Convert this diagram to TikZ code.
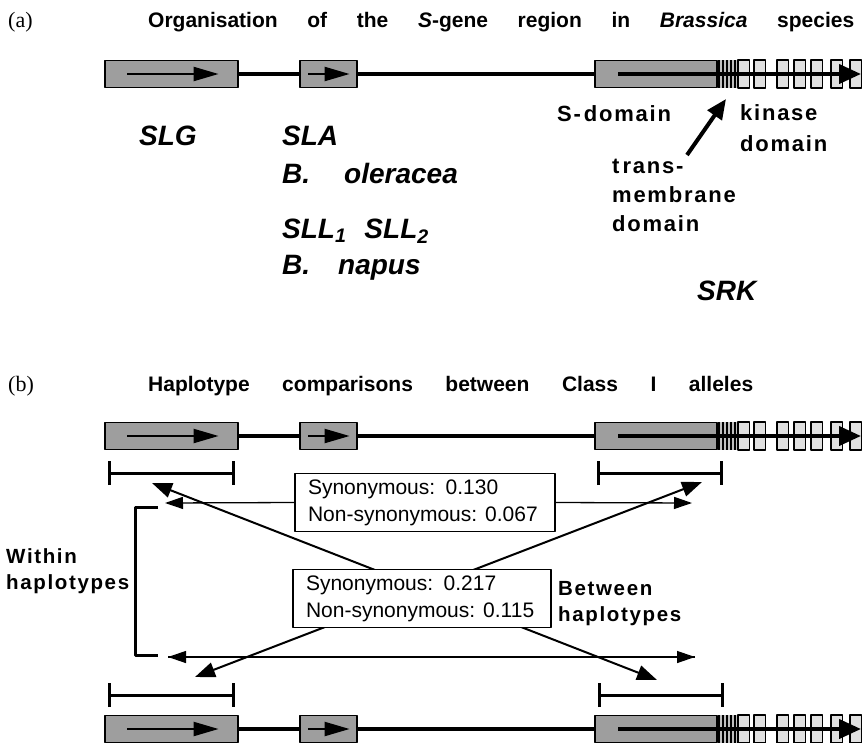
\documentclass[tikz,border=0pt]{standalone}
\usepackage{fontspec}
\setmainfont{Liberation Sans}
\newfontfamily\panelfont{Liberation Serif}
\newfontfamily\widesans[LetterSpace=8]{Liberation Sans}
\usetikzlibrary{arrows.meta}
\definecolor{genegrey}{gray}{0.62}
\definecolor{kinasegrey}{gray}{0.88}
\definecolor{stripegrey}{gray}{0.75}

% one S-locus gene row: #1 = y of its axis, #2 = suffix of the node names
\newcommand{\generow}[2]{%
  \node[genebox, minimum width=133pt] (slg#2) at (171.5,#1) {};
  \node[genebox, minimum width=57pt] (sla#2) at (328.5,#1) {};
  \node[genebox, minimum width=122pt] (srk#2) at (656,#1) {};
  \draw[backbone] (slg#2.east) -- (sla#2.west);
  \draw[backbone] (sla#2.east) -- (srk#2.west);
  \fill[stripegrey] (srk#2.north east) rectangle (738,#1+14);
  \foreach \sx in {719,723,727,731,735}
    \draw[line width=1.6pt] (\sx,#1-14) -- (\sx,#1+14);
  \foreach \kx in {738,754,777,794,811,831,850}
    \draw[kinasebox] (\kx,#1-14) rectangle ++(11.5,28);
  \draw[exonarrow] ([xshift=23pt]slg#2.west) -- ([xshift=-20pt]slg#2.east);
  \draw[exonarrow] ([xshift=9pt]sla#2.west) -- ([xshift=-8pt]sla#2.east);
  \draw[srkarrow] ([xshift=24pt]srk#2.west) -- (861,#1);
}

\begin{document}
\begin{tikzpicture}[x=1pt,y=-1pt,line join=bevel]
\tikzset{
  genebox/.style={draw, line width=1.2pt, fill=genegrey, minimum height=27pt, inner sep=0pt},
  kinasebox/.style={draw, line width=1.2pt, fill=kinasegrey},
  backbone/.style={line width=4pt},
  exonarrow/.style={line width=2.2pt, -{Triangle[length=25pt,width=14pt]}},
  srkarrow/.style={line width=4pt, -{Triangle[length=22pt,width=19pt]}},
  panellabel/.style={font=\fontsize{22}{24}\panelfont, anchor=base west, inner sep=0pt},
  titletext/.style={font=\fontsize{21}{23}\bfseries, anchor=base west, inner sep=0pt},
  genename/.style={font=\fontsize{28}{30}\bfseries\itshape, anchor=base west, inner sep=0pt},
  domainname/.style={font=\fontsize{22}{24}\bfseries\widesans, anchor=base west, inner sep=0pt},
  sidelabel/.style={font=\fontsize{20.5}{22}\bfseries\widesans, anchor=base west, inner sep=0pt},
  statbox/.style={draw, line width=1.3pt, fill=white, align=left, inner xsep=13pt,
    font=\fontsize{21}{27}\selectfont, minimum height=58pt},
  scalebar/.style={line width=3pt, {Bar[width=24pt,line width=3pt]}-{Bar[width=24pt,line width=3pt]}},
  bracket/.style={line width=3pt},
  harrow/.style={line width=1.3pt, -{Triangle[length=18pt,width=12pt]}},
  xarrow/.style={line width=2pt, {Triangle[length=20pt,width=15pt]}-{Triangle[length=20pt,width=15pt]}},
  tmarrow/.style={line width=4pt, -{Triangle[length=20pt,width=17pt]}}
}
\useasboundingbox (0,0) rectangle (862,742);
\clip (0,0) rectangle (862,742);
%%
% Panel (a)
\node[panellabel] (pa) at (8,27) {(a)};
\node[titletext] (titlea) at (148,27)
  {\makebox[706pt][s]{Organisation of the \textit{S}-gene region in \textit{Brassica} species}};
\generow{74}{A}
% Node: gene names
\node[genename] (lblslg) at (139,145) {SLG};
\node[genename] (lblsla) at (282,145) {SLA};
\node[genename] (lblole) at (282,183) {B.\hspace{34pt}oleracea};
\node[genename] (lblsll) at (282,238) {SLL\textsubscript{1}\hspace{18pt}SLL\textsubscript{2}};
\node[genename] (lblnap) at (282,274) {B.\hspace{28pt}napus};
\node[genename] (lblsrk) at (697,300) {SRK};
% Node: SRK domains
\node[domainname] (sdom) at (557,121) {S-\hspace{3pt}domain};
\node[domainname, align=left, font=\fontsize{22}{31}\bfseries\widesans, anchor=north west]
  (kdom) at (740,104) {kinase\\domain};
\node[domainname, align=left, font=\fontsize{22}{29}\bfseries\widesans, anchor=north west]
  (tmdom) at (612,159) {t\hspace{3pt}rans-\\membrane\\domain};
\coordinate (tmtail) at (687,155);
\coordinate (tmtip) at (726,99);
% Edge: trans-membrane label -> SRK
\draw[tmarrow] (tmtail) -- (tmtip);
%%
% Panel (b)
\node[panellabel] (pb) at (8,391) {(b)};
\node[titletext] (titleb) at (148,391)
  {\makebox[605pt][s]{Haplotype comparisons between Class I alleles}};
\generow{436}{B}
\generow{729}{C}
% scale bars
\coordinate (barAl) at (108,473); \coordinate (barAr) at (235,473);
\coordinate (barBl) at (597,473); \coordinate (barBr) at (723,473);
\coordinate (barCl) at (108,695); \coordinate (barCr) at (235,695);
\coordinate (barDl) at (598,695); \coordinate (barDr) at (724,695);
\draw[scalebar] (barAl) -- (barAr);
\draw[scalebar] (barBl) -- (barBr);
\draw[scalebar] (barCl) -- (barCr);
\draw[scalebar] (barDl) -- (barDr);
% bracket and labels
\coordinate (bracktop) at (158,507);
\coordinate (brackbot) at (158,655);
\draw[bracket] (bracktop) -- (135,507) -- (135,655) -- (brackbot);
\node[sidelabel] (within) at (6,563) {Within};
\node[sidelabel] (withinh) at (6,589) {haplotypes};
\node[sidelabel] (between) at (558,595) {Between};
\node[sidelabel] (betweenh) at (558,621) {haplotypes};
% Edge: between haplotypes (crossing)
\coordinate (xul) at (152,483); \coordinate (xlr) at (657,680);
\coordinate (xur) at (702,482); \coordinate (xll) at (195,677);
\draw[xarrow] (xul) -- (xlr);
\draw[xarrow] (xur) -- (xll);
% Edge: within haplotypes
\coordinate (hlt) at (165,503); \coordinate (hrt) at (692,503);
\coordinate (hlb) at (168,657); \coordinate (hrb) at (695,657);
\draw[harrow] (hlb) -- (hrb);
\draw[harrow] (hrb) -- (hlb);
% Node: statistics boxes
\node[statbox, text width=234pt] (withinbox) at (425,502.5)
  {Synonymous: 0.130\\Non-synonymous:\hspace{8pt}0.067};
\node[statbox, text width=232pt] (betweenbox) at (422,598.5)
  {Synonymous: 0.217\\Non-synonymous:\hspace{8pt}0.115};
\draw[harrow] (withinbox.west) -- (hlt);
\draw[harrow] (withinbox.east) -- (hrt);
%
\end{tikzpicture}
\end{document}
